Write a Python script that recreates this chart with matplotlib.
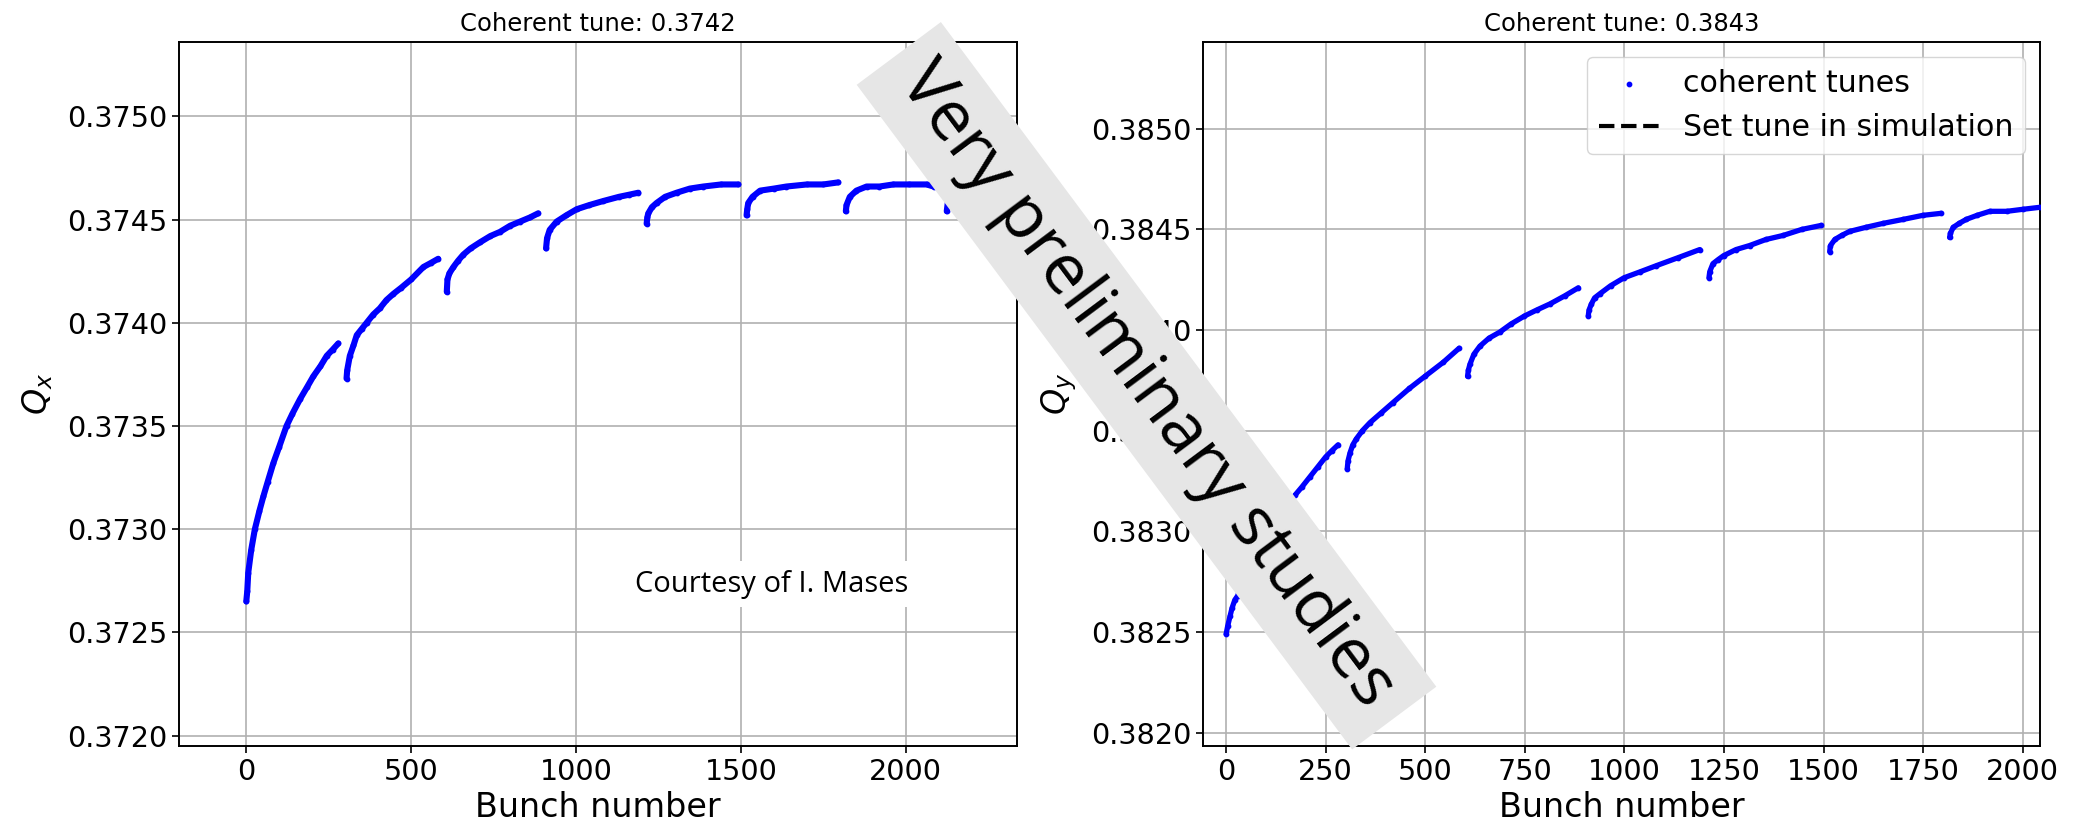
import matplotlib.pyplot as plt
from matplotlib.patches import Rectangle
from matplotlib.ticker import FormatStrFormatter
from matplotlib.transforms import IdentityTransform

# ---- horizontal plane (Q_x), bunch number / tune per train ----
qx_b1 = [0, 3, 6, 15, 26, 40, 52, 65, 82, 100, 122, 140, 163, 185, 203, 225, 244, 262, 279]
qx_t1 = [0.37265, 0.37270, 0.37279, 0.37290, 0.37300, 0.37309, 0.37316, 0.37323, 0.37332, 0.37340,
         0.37350, 0.37356, 0.37363, 0.37369, 0.37374, 0.37379, 0.37384, 0.37387, 0.37390]
qx_b2 = [304, 306, 314, 325, 335, 350, 365, 385, 405, 425, 446, 470, 500, 537, 560, 582]
qx_t2 = [0.37373, 0.37377, 0.37384, 0.37389, 0.37394, 0.37397, 0.37400, 0.37404, 0.37407, 0.37411,
         0.37414, 0.37417, 0.37421, 0.37427, 0.37429, 0.37431]
qx_b3 = [608, 610, 616, 628, 642, 658, 680, 709, 740, 769, 800, 830, 860, 885]
qx_t3 = [0.37415, 0.37421, 0.37424, 0.37427, 0.37430, 0.37433, 0.37436, 0.37439, 0.37442, 0.37444,
         0.37447, 0.37449, 0.37451, 0.37453]
qx_b4 = [909, 912, 920, 941, 970, 1002, 1040, 1083, 1130, 1160, 1189]
qx_t4 = [0.37436, 0.37441, 0.37445, 0.37449, 0.37452, 0.37455, 0.37457, 0.37459, 0.37461, 0.37462, 0.37463]
qx_b5 = [1214, 1216, 1219, 1230, 1244, 1270, 1305, 1345, 1386, 1440, 1492]
qx_t5 = [0.37448, 0.37451, 0.37453, 0.37456, 0.37458, 0.37461, 0.37463, 0.37465, 0.37466, 0.37467, 0.37467]
qx_b6 = [1517, 1519, 1522, 1535, 1558, 1600, 1638, 1700, 1750, 1795]
qx_t6 = [0.37452, 0.37455, 0.37458, 0.37461, 0.37464, 0.37465, 0.37466, 0.37467, 0.37467, 0.37468]
qx_b7 = [1818, 1820, 1830, 1850, 1881, 1920, 1962, 2010, 2063, 2084]
qx_t7 = [0.37454, 0.37457, 0.37461, 0.37464, 0.37466, 0.37466, 0.37467, 0.37467, 0.37467, 0.37466]
qx_b8 = [2124, 2127, 2135, 2160, 2200, 2250, 2300]
qx_t8 = [0.37454, 0.37458, 0.37461, 0.37464, 0.37466, 0.37467, 0.37467]

# ---- vertical plane (Q_y) ----
qy_b1 = [0, 4, 10, 15, 22, 29, 50, 75, 100, 125, 150, 173, 190, 210, 230, 250, 265, 281]
qy_t1 = [0.38249, 0.38253, 0.38258, 0.38262, 0.38266, 0.38268, 0.38280, 0.38290, 0.38299, 0.38306,
         0.38312, 0.38318, 0.38322, 0.38327, 0.38332, 0.38337, 0.38340, 0.38343]
qy_b2 = [304, 306, 311, 318, 327, 342, 361, 390, 419, 460, 499, 545, 585]
qy_t2 = [0.38331, 0.38335, 0.38339, 0.38343, 0.38346, 0.38350, 0.38354, 0.38359, 0.38364, 0.38371,
         0.38377, 0.38384, 0.38391]
qy_b3 = [606, 608, 612, 622, 637, 660, 687, 715, 749, 780, 813, 850, 884]
qy_t3 = [0.38377, 0.38380, 0.38383, 0.38388, 0.38392, 0.38396, 0.38399, 0.38403, 0.38407, 0.38410,
         0.38413, 0.38417, 0.38421]
qy_b4 = [909, 911, 917, 925, 938, 965, 999, 1040, 1080, 1135, 1189]
qy_t4 = [0.38407, 0.38410, 0.38413, 0.38416, 0.38418, 0.38422, 0.38426, 0.38429, 0.38432, 0.38436, 0.38440]
qy_b5 = [1212, 1214, 1222, 1235, 1249, 1280, 1314, 1355, 1398, 1445, 1494]
qy_t5 = [0.38426, 0.38429, 0.38433, 0.38435, 0.38437, 0.38440, 0.38442, 0.38445, 0.38447, 0.38450, 0.38452]
qy_b6 = [1515, 1517, 1528, 1545, 1565, 1605, 1649, 1700, 1749, 1795]
qy_t6 = [0.38439, 0.38442, 0.38445, 0.38447, 0.38449, 0.38451, 0.38453, 0.38455, 0.38457, 0.38458]
qy_b7 = [1816, 1818, 1825, 1840, 1858, 1885, 1917, 1960, 2000, 2043, 2085]
qy_t7 = [0.38446, 0.38448, 0.38451, 0.38453, 0.38455, 0.38457, 0.38459, 0.38459, 0.38460, 0.38461, 0.38462]

qx_trains = [(qx_b1, qx_t1), (qx_b2, qx_t2), (qx_b3, qx_t3), (qx_b4, qx_t4),
             (qx_b5, qx_t5), (qx_b6, qx_t6), (qx_b7, qx_t7), (qx_b8, qx_t8)]
qy_trains = [(qy_b1, qy_t1), (qy_b2, qy_t2), (qy_b3, qy_t3), (qy_b4, qy_t4),
             (qy_b5, qy_t5), (qy_b6, qy_t6), (qy_b7, qy_t7)]

qx_ticks = [0.3720, 0.3725, 0.3730, 0.3735, 0.3740, 0.3745, 0.3750]
qy_ticks = [0.3820, 0.3825, 0.3830, 0.3835, 0.3840, 0.3845, 0.3850]

W, H = 2077, 832


def draw_trains(ax, trains, lw, label=None):
    for i, (b, q) in enumerate(trains):
        ax.plot(b, q, color="blue", lw=lw, solid_capstyle="round", zorder=3)
        ax.scatter(b, q, s=10, color="blue", zorder=3,
                   label=label if i == 0 else None)


def style_axes(ax, ylabel, title, yticks):
    ax.set_title(title, fontsize=17.5, pad=8)
    ax.set_xlabel("Bunch number", fontsize=24)
    ax.set_ylabel(ylabel, fontsize=24, labelpad=9)
    ax.set_yticks(yticks)
    ax.yaxis.set_major_formatter(FormatStrFormatter("%.4f"))
    ax.tick_params(labelsize=20.6, length=4.8, width=1.2)
    ax.grid(True, color="#b0b0b0", lw=1.2)
    ax.set_axisbelow(True)
    for s in ax.spines.values():
        s.set_linewidth(1.4)


fig = plt.figure(figsize=(W / 100, H / 100), dpi=100)
ax1 = fig.add_axes([179 / W, 1 - 746 / H, (1017 - 179) / W, 704 / H])
ax2 = fig.add_axes([1203 / W, 1 - 746 / H, (2040 - 1203) / W, 704 / H])

draw_trains(ax1, qx_trains, lw=4.4)
style_axes(ax1, "$Q_x$", "Coherent tune: 0.3742", qx_ticks)
ax1.set_xticks([0, 500, 1000, 1500, 2000])
ax1.set_xlim(-204, 2337)
ax1.set_ylim(0.37195, 0.37536)

draw_trains(ax2, qy_trains, lw=3.8, label="coherent tunes")
ax2.plot([], [], "k--", lw=3, label="Set tune in simulation")
style_axes(ax2, "$Q_y$", "Coherent tune: 0.3843", qy_ticks)
ax2.set_xticks([0, 250, 500, 750, 1000, 1250, 1500, 1750, 2000])
ax2.set_xlim(-58, 2043)
ax2.set_ylim(0.381934, 0.385431)
ax2.legend(loc="upper right", fontsize=21.6)

# credit note with white box
fig.text(772 / W, 1 - 591.7 / H, "Courtesy of I. Mases", ha="center", va="baseline",
         fontsize=21, family="Open Sans",
         bbox=dict(boxstyle="square,pad=0.3", fc="white", ec="none"))

# diagonal "preliminary" banner (pixel coords)
cx, cy = 1146.5, H - 385.75
L, T = 829, 105
band = Rectangle((cx - L / 2, cy - T / 2), L, T, angle=-53.3, rotation_point="center",
                 facecolor="#e6e6e6", edgecolor="none", zorder=10)
band.set_transform(IdentityTransform())
fig.add_artist(band)
fig.text(cx / W, cy / H, "Very preliminary studies", rotation=-53.3, rotation_mode="anchor",
         ha="center", va="center", fontsize=50, family="Open Sans", zorder=11)

fig.savefig("out.png", dpi=100)
